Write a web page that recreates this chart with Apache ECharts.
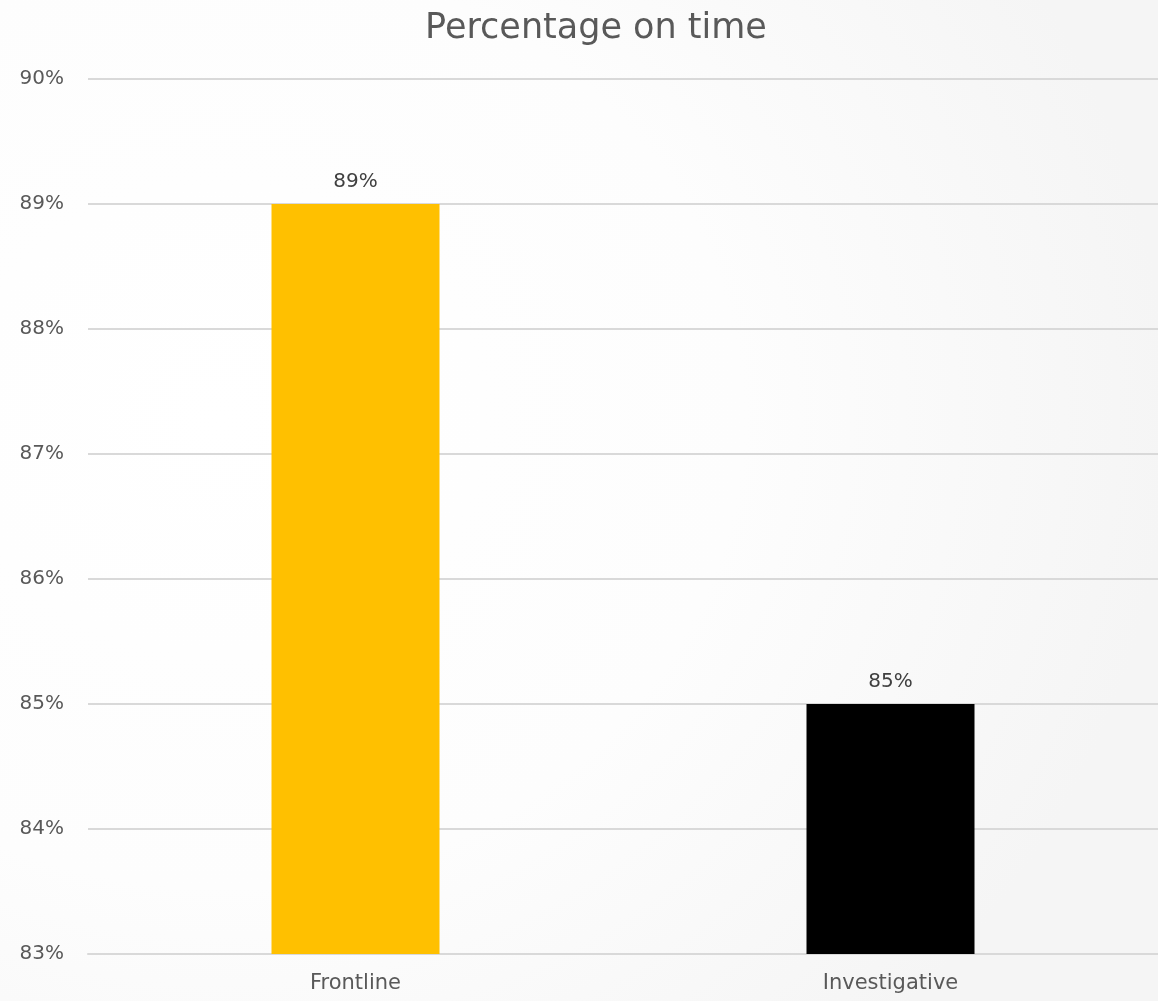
<!DOCTYPE html>
<html>
<head>
<meta charset="utf-8">
<title>Percentage on time</title>
<script src="https://cdn.jsdelivr.net/npm/echarts@6/dist/echarts.min.js"></script>
<style>
  html, body { margin: 0; padding: 0; }
  body {
    width: 1158px; height: 1001px; overflow: hidden;
    background: radial-gradient(ellipse 950px 850px at 220px 420px, #ffffff 0%, #fdfdfd 55%, #f5f5f5 100%);
  }
  #chart { width: 1158px; height: 1001px; }
</style>
</head>
<body>
<div id="chart"></div>
<script>
// Share of cases handled on time, by team
const categories = ['Frontline', 'Investigative'];
const onTimePct = [89, 85];
const barColors = ['#FFC000', '#000000'];
const yMin = 83, yMax = 90, yStep = 1;

const FONT = '"Century Gothic", "DejaVu Sans", sans-serif';
const chart = echarts.init(document.getElementById('chart'), null, { renderer: 'canvas' });

chart.setOption({
  backgroundColor: 'transparent',
  animation: false,
  title: {
    text: 'Percentage on time',
    left: 591,
    textAlign: 'center',
    top: 6,
    textStyle: { fontFamily: FONT, fontSize: 35, fontWeight: 'normal', color: '#595959' }
  },
  grid: { left: 88, right: 0, top: 79, bottom: 47, containLabel: false },
  xAxis: {
    type: 'category',
    data: categories,
    axisLine: { show: true, lineStyle: { color: '#d9d9d9', width: 2 } },
    axisTick: { show: false },
    axisLabel: { fontFamily: FONT, fontSize: 21, color: '#595959', margin: 19 }
  },
  yAxis: {
    type: 'value',
    min: yMin, max: yMax, interval: yStep,
    axisLine: { show: false },
    axisTick: { show: false },
    splitLine: { lineStyle: { color: '#d9d9d9', width: 2 } },
    axisLabel: {
      fontFamily: FONT, fontSize: 20, color: '#595959', margin: 24,
      formatter: v => v + '%'
    }
  },
  series: [{
    type: 'bar',
    barWidth: 168,
    data: onTimePct.map((v, i) => ({ value: v, itemStyle: { color: barColors[i] } })),
    label: {
      show: true,
      position: 'top',
      distance: 12,
      fontFamily: FONT, fontSize: 20, color: '#404040',
      formatter: p => p.value + '%'
    }
  }]
});
</script>
</body>
</html>
